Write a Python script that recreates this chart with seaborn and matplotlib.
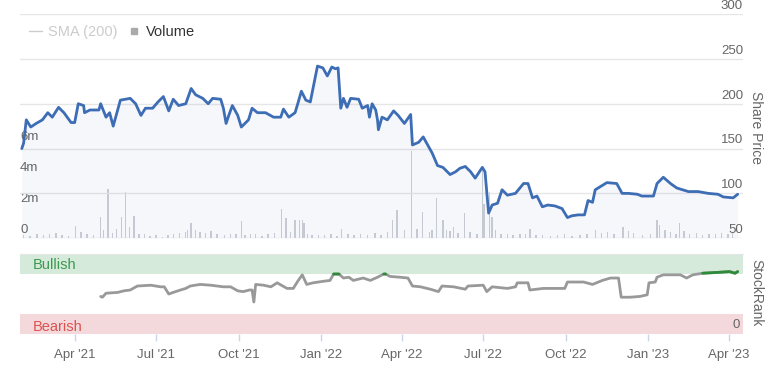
import matplotlib as mat
import matplotlib.pyplot as plt
import matplotlib.dates as mdates
from matplotlib.lines import Line2D
import seaborn as sns
import numpy as np
import pandas as pd

sns.set_style('white')
plt.rcParams['font.family'] = ['Liberation Sans', 'DejaVu Sans']

# share price
price_dates = ['2021-02-01', '2021-02-03', '2021-02-06', '2021-02-11', '2021-02-17', '2021-02-24',
               '2021-03-02', '2021-03-07', '2021-03-14', '2021-03-20', '2021-03-28', '2021-04-01',
               '2021-04-05', '2021-04-11', '2021-04-12', '2021-04-18', '2021-04-28', '2021-04-30',
               '2021-05-06', '2021-05-10', '2021-05-14', '2021-05-22', '2021-06-02', '2021-06-08',
               '2021-06-14', '2021-06-19', '2021-06-27', '2021-07-03', '2021-07-09', '2021-07-15',
               '2021-07-20', '2021-07-26', '2021-08-03', '2021-08-09', '2021-08-14', '2021-08-22',
               '2021-08-28', '2021-09-02', '2021-09-11', '2021-09-14', '2021-09-17', '2021-09-20',
               '2021-09-24', '2021-09-30', '2021-10-04', '2021-10-09', '2021-10-12', '2021-10-16',
               '2021-10-22', '2021-10-31', '2021-11-09', '2021-11-17', '2021-11-20', '2021-11-26',
               '2021-12-03', '2021-12-06', '2021-12-10', '2021-12-15', '2021-12-20', '2021-12-28',
               '2022-01-03', '2022-01-08', '2022-01-13', '2022-01-17', '2022-01-20', '2022-01-23',
               '2022-01-26', '2022-01-30', '2022-02-03', '2022-02-12', '2022-02-16', '2022-02-22',
               '2022-02-24', '2022-02-27', '2022-03-03', '2022-03-05', '2022-03-06', '2022-03-10',
               '2022-03-16', '2022-03-23', '2022-03-28', '2022-04-04', '2022-04-11', '2022-04-13',
               '2022-04-20', '2022-04-25', '2022-04-30', '2022-05-05', '2022-05-11', '2022-05-17',
               '2022-05-25', '2022-05-31', '2022-06-05', '2022-06-11', '2022-06-17', '2022-06-22',
               '2022-06-30', '2022-07-03', '2022-07-07', '2022-07-11', '2022-07-17', '2022-07-22',
               '2022-07-28', '2022-08-06', '2022-08-15', '2022-08-20', '2022-08-25', '2022-08-30',
               '2022-09-05', '2022-09-11', '2022-09-19', '2022-09-27', '2022-10-03', '2022-10-08',
               '2022-10-15', '2022-10-22', '2022-10-26', '2022-10-31', '2022-11-03', '2022-11-11',
               '2022-11-16', '2022-11-27', '2022-12-03', '2022-12-10', '2022-12-20', '2022-12-25',
               '2023-01-07', '2023-01-11', '2023-01-18', '2023-01-26', '2023-02-02', '2023-02-15',
               '2023-02-26', '2023-03-09', '2023-03-20', '2023-03-26', '2023-04-06', '2023-04-11']
price_values = [150, 156, 182, 174, 178, 182,
                190, 185, 196, 190, 179, 179,
                200, 198, 190, 193, 193, 200,
                185, 190, 175, 204, 206, 200,
                187, 195, 195, 202, 208, 192,
                205, 198, 200, 217, 210, 206,
                200, 206, 205, 195, 178, 187,
                198, 187, 174, 179, 182, 195,
                190, 190, 185, 185, 194, 185,
                190, 200, 214, 204, 202, 242,
                240, 231, 241, 239, 240, 195,
                206, 196, 206, 205, 195, 198,
                185, 200, 193, 182, 171, 185,
                182, 192, 187, 178, 188, 154,
                157, 163, 154, 145, 131, 129,
                121, 124, 128, 130, 124, 117,
                129, 124, 78, 87, 89, 104,
                98, 100, 111, 111, 95, 97,
                85, 87, 86, 83, 73, 75,
                76, 76, 92, 90, 104, 109,
                112, 111, 100, 100, 99, 97,
                97, 111, 118, 111, 106, 102,
                102, 100, 99, 96, 95, 99]

# daily volume (millions of shares)
vol_dates = ['2021-02-03', '2021-02-10', '2021-02-18', '2021-02-25', '2021-03-04', '2021-03-11',
             '2021-03-18', '2021-03-25', '2021-04-02', '2021-04-08', '2021-04-15', '2021-04-22',
             '2021-04-30', '2021-05-03', '2021-05-08', '2021-05-13', '2021-05-18', '2021-05-23',
             '2021-05-28', '2021-06-01', '2021-06-06', '2021-06-12', '2021-06-18', '2021-06-24',
             '2021-07-01', '2021-07-08', '2021-07-14', '2021-07-20', '2021-07-27', '2021-08-03',
             '2021-08-05', '2021-08-09', '2021-08-14', '2021-08-19', '2021-08-25', '2021-08-31',
             '2021-09-07', '2021-09-15', '2021-09-22', '2021-09-28', '2021-10-04', '2021-10-08',
             '2021-10-14', '2021-10-20', '2021-10-27', '2021-11-03', '2021-11-10', '2021-11-18',
             '2021-11-23', '2021-11-28', '2021-12-03', '2021-12-08', '2021-12-11', '2021-12-13',
             '2021-12-17', '2021-12-22', '2021-12-29', '2022-01-05', '2022-01-12', '2022-01-19',
             '2022-01-24', '2022-01-31', '2022-02-07', '2022-02-14', '2022-02-22', '2022-03-02',
             '2022-03-09', '2022-03-16', '2022-03-22', '2022-03-27', '2022-04-04', '2022-04-12',
             '2022-04-18', '2022-04-24', '2022-05-02', '2022-05-05', '2022-05-10', '2022-05-17',
             '2022-05-21', '2022-05-25', '2022-05-29', '2022-06-03', '2022-06-10', '2022-06-16',
             '2022-06-24', '2022-06-30', '2022-07-02', '2022-07-08', '2022-07-11', '2022-07-15',
             '2022-07-21', '2022-07-28', '2022-08-03', '2022-08-11', '2022-08-17', '2022-08-22',
             '2022-08-29', '2022-09-05', '2022-09-14', '2022-09-22', '2022-09-30', '2022-10-08',
             '2022-10-17', '2022-10-25', '2022-11-03', '2022-11-10', '2022-11-17', '2022-11-24',
             '2022-12-04', '2022-12-10', '2022-12-16', '2022-12-26', '2023-01-04', '2023-01-11',
             '2023-01-14', '2023-01-20', '2023-01-26', '2023-02-01', '2023-02-05', '2023-02-10',
             '2023-02-16', '2023-02-24', '2023-03-03', '2023-03-10', '2023-03-17', '2023-03-24',
             '2023-03-31', '2023-04-05']
vol_values = [0.2, 0.15, 0.3, 0.2, 0.25, 0.35,
              0.2, 0.15, 0.8, 0.4, 0.3, 0.2,
              1.35, 0.5, 3.2, 0.35, 0.6, 1.35,
              3.0, 0.7, 1.4, 0.3, 0.25, 0.15,
              0.2, 0.1, 0.2, 0.3, 0.35, 0.4,
              0.5, 1.0, 0.55, 0.4, 0.35, 0.45,
              0.3, 0.2, 0.3, 0.25, 1.1, 0.2,
              0.3, 0.25, 0.15, 0.25, 0.35, 1.9,
              1.3, 0.4, 1.15, 1.2, 1.15, 1.0,
              0.3, 0.2, 0.2, 0.2, 0.25, 0.15,
              0.6, 0.3, 0.2, 0.3, 0.2, 0.35,
              0.2, 0.4, 1.2, 1.8, 0.5, 5.6,
              0.6, 1.7, 0.4, 0.5, 2.6, 1.2,
              0.5, 0.45, 0.7, 0.35, 1.6, 0.4,
              0.3, 4.4, 2.2, 3.0, 1.35, 0.5,
              0.3, 0.3, 0.2, 0.25, 0.3, 0.6,
              0.2, 0.2, 0.15, 0.2, 0.25, 0.15,
              0.2, 0.3, 0.5, 0.35, 0.4, 0.3,
              0.7, 0.45, 0.35, 0.2, 0.3, 1.2,
              0.85, 0.5, 0.4, 0.3, 1.0, 0.45,
              0.3, 0.35, 0.2, 0.25, 0.3, 0.35,
              0.3, 0.4]

# StockRank
rank_dates = ['2021-04-30', '2021-05-02', '2021-05-06', '2021-05-19', '2021-05-26', '2021-06-02',
              '2021-06-10', '2021-06-25', '2021-07-06', '2021-07-10', '2021-07-15', '2021-07-20',
              '2021-07-28', '2021-08-03', '2021-08-08', '2021-08-19', '2021-08-31', '2021-09-14',
              '2021-09-22', '2021-09-30', '2021-10-06', '2021-10-13', '2021-10-16', '2021-10-18',
              '2021-10-20', '2021-10-29', '2021-11-06', '2021-11-13', '2021-11-24', '2021-12-01',
              '2021-12-06', '2021-12-11', '2021-12-16', '2021-12-23', '2022-01-04', '2022-01-11',
              '2022-01-15', '2022-01-21', '2022-01-26', '2022-02-01', '2022-02-06', '2022-02-17',
              '2022-02-25', '2022-03-05', '2022-03-12', '2022-03-14', '2022-03-19', '2022-03-30',
              '2022-04-08', '2022-04-13', '2022-04-22', '2022-05-03', '2022-05-12', '2022-05-16',
              '2022-05-29', '2022-06-11', '2022-06-14', '2022-07-01', '2022-07-05', '2022-07-11',
              '2022-07-28', '2022-08-06', '2022-08-08', '2022-08-20', '2022-08-22', '2022-09-06',
              '2022-09-30', '2022-10-03', '2022-10-21', '2022-10-31', '2022-11-11', '2022-11-20',
              '2022-11-29', '2022-12-02', '2022-12-12', '2022-12-23', '2022-12-31', '2023-01-02',
              '2023-01-09', '2023-01-11', '2023-01-18', '2023-01-29', '2023-02-06', '2023-02-13',
              '2023-02-20', '2023-03-03', '2023-03-19', '2023-04-02', '2023-04-08', '2023-04-11']
rank_values = [47, 46, 51, 52, 54, 55,
               60, 61, 59, 59, 50, 52,
               55, 57, 60, 62, 61, 59,
               59, 54, 53, 55, 55, 40,
               62, 61, 59, 64, 57, 57,
               66, 74, 62, 64, 66, 67,
               75, 75, 70, 71, 67, 70,
               67, 71, 75, 75, 72, 71,
               70, 60, 59, 56, 53, 60,
               59, 56, 60, 61, 53, 59,
               57, 59, 64, 64, 55, 57,
               57, 65, 65, 62, 67, 70,
               70, 46, 46, 47, 49, 64,
               65, 71, 74, 74, 74, 70,
               74, 76, 77, 78, 76, 78]

price_ticks = [50, 100, 150, 200, 250, 300]
vol_ticks = [0, 2, 4, 6]
vol_tick_labels = ['0', '2m', '4m', '6m']

price = pd.DataFrame({'date': pd.to_datetime(price_dates), 'price': price_values})
volume = pd.DataFrame({'date': pd.to_datetime(vol_dates), 'vol': vol_values})
rank = pd.DataFrame({'date': pd.to_datetime(rank_dates), 'rank': rank_values})

grey = '#666666'
blue = '#3d6db5'
xlim = (pd.Timestamp('2021-01-30'), pd.Timestamp('2023-04-17'))

fig = plt.figure(figsize=(7.7, 3.71), dpi=100)
ax = fig.add_axes([0.026, 0.358, 0.939, 0.604])
axv = ax.twinx()
ax.set_zorder(axv.get_zorder() + 1)
ax.patch.set_visible(False)

# volume bars behind the price
axv.bar(volume['date'], volume['vol'], width=1.6, color='#cdced3', linewidth=0)
axv.set_ylim(0, 14.45)
axv.set_yticks([])
axv.grid(False)
for s in axv.spines.values():
    s.set_visible(False)
for v, lab in zip(vol_ticks, vol_tick_labels):
    axv.annotate(lab, (0, v), xycoords=axv.get_yaxis_transform(), xytext=(0, 1.5),
                 textcoords='offset points', ha='left', va='bottom', fontsize=9.5, color=grey)

# share price
ax.fill_between(price['date'], price['price'], 50, color=blue, alpha=0.05, linewidth=0)
sns.lineplot(data=price, x='date', y='price', ax=ax, color=blue, linewidth=2.0)
ax.set_ylim(50, 300)
ax.set_xlim(xlim)
ax.set_yticks(price_ticks)
ax.set_yticklabels([])
ax.tick_params(axis='both', length=0, labelbottom=False)
ax.grid(axis='y', color='#e6e6e6', linewidth=1)
ax.grid(axis='x', visible=False)
ax.set_xlabel('')
ax.set_ylabel('')
for s in ax.spines.values():
    s.set_visible(False)
for v in price_ticks:
    ax.annotate(str(v), (1, v), xycoords=ax.get_yaxis_transform(), xytext=(0, 1.5),
                textcoords='offset points', ha='right', va='bottom', fontsize=9.5, color=grey,
                annotation_clip=False)

# legend
handles = [Line2D([], [], color='#cccccc', linewidth=1),
           Line2D([], [], color='#aaaaaa', marker='s', markersize=5, linestyle='none')]
leg = ax.legend(handles, ['SMA (200)', 'Volume'], loc='upper left', ncol=2, frameon=False,
                bbox_to_anchor=(-0.006, 1.008), fontsize=10.5, handlelength=0.9,
                handletextpad=0.4, columnspacing=0.7)
leg.get_texts()[0].set_color('#cccccc')
leg.get_texts()[1].set_color('#333333')

fig.text(0.982, 0.655, 'Share Price', rotation=270, ha='center', va='center',
         fontsize=10, color=grey)

# StockRank panel
axr = fig.add_axes([0.026, 0.0997, 0.939, 0.2156])
axr.axhspan(75, 100, color='#d5eadb', linewidth=0)
axr.axhspan(0, 25, color='#f4d9dc', linewidth=0)
sns.lineplot(data=rank, x='date', y='rank', ax=axr, color='#999999', linewidth=2.0)
bull = np.where(rank['rank'] >= 75, rank['rank'], np.nan)
axr.plot(rank['date'], bull, color='#2e8b3a', linewidth=2.0)
axr.set_ylim(0, 100)
axr.set_xlim(xlim)
axr.set_yticks([])
axr.set_xlabel('')
axr.set_ylabel('')
axr.text(0.017, 86, 'Bullish', transform=axr.get_yaxis_transform(), ha='left', va='center',
         fontsize=10.5, color='#3c9a50')
axr.text(0.017, 9, 'Bearish', transform=axr.get_yaxis_transform(), ha='left', va='center',
         fontsize=10.5, color='#d9534f')
axr.annotate('0', (1, 0), xycoords=axr.get_yaxis_transform(), xytext=(-2, 2),
             textcoords='offset points', ha='right', va='bottom', fontsize=9.5, color=grey)
for name, s in axr.spines.items():
    s.set_visible(name == 'top')
axr.spines['top'].set_color('#e6e6e6')
axr.xaxis.set_major_locator(mdates.MonthLocator(bymonth=[1, 4, 7, 10]))
axr.xaxis.set_major_formatter(mdates.DateFormatter("%b '%y"))
axr.tick_params(axis='x', direction='out', length=5, width=1, color='#ccd6eb',
                labelsize=9.5, labelcolor=grey, pad=6, bottom=True)
fig.text(0.982, 0.21, 'StockRank', rotation=270, ha='center', va='center',
         fontsize=10, color=grey)

fig.savefig('out.png', dpi=100)
